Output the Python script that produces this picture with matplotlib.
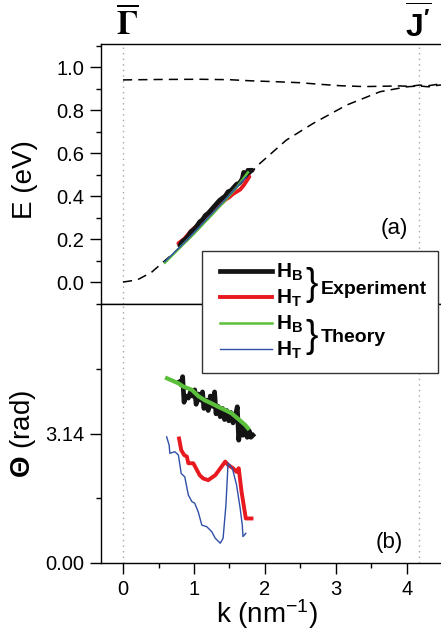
import matplotlib
matplotlib.use("Agg")
import matplotlib.pyplot as plt
from matplotlib.lines import Line2D
from matplotlib.patches import Rectangle

plt.rcParams['font.family'] = ['Liberation Sans', 'DejaVu Sans']
plt.rcParams['mathtext.fontset'] = 'custom'
plt.rcParams['mathtext.rm'] = 'Liberation Sans'
plt.rcParams['mathtext.bf'] = 'Liberation Sans:bold'
plt.rcParams['mathtext.it'] = 'Liberation Sans:italic'

# --- panel (a): dashed model bands
k_band_low = [0.0, 0.2, 0.4, 0.57, 0.8, 1.0, 1.3, 1.6, 1.93, 2.3, 2.68, 3.15, 3.62, 4.0, 4.17, 4.3, 4.46, 4.6]
E_band_low = [0.0, 0.01, 0.045, 0.094, 0.16, 0.225, 0.33, 0.44, 0.552, 0.66, 0.738, 0.823, 0.885, 0.908, 0.912, 0.908, 0.916, 0.918]
k_band_up = [0.0, 0.5, 1.08, 1.5, 1.79, 2.2, 2.49, 2.8, 3.06, 3.4, 3.9, 4.05, 4.17, 4.3, 4.46, 4.6]
E_band_up = [0.940, 0.942, 0.943, 0.941, 0.936, 0.931, 0.927, 0.919, 0.913, 0.909, 0.912, 0.910, 0.916, 0.913, 0.921, 0.918]

# experiment / theory dispersions (panel a)
k_exp_B = [0.80, 0.84, 0.88, 0.92, 0.96, 1.00, 1.04, 1.08, 1.12, 1.16, 1.20, 1.24, 1.28, 1.32, 1.36,
           1.40, 1.44, 1.48, 1.52, 1.56, 1.60, 1.64, 1.68, 1.70, 1.72, 1.74, 1.76, 1.78, 1.80, 1.82]
E_exp_B = [0.17, 0.19, 0.20, 0.215, 0.235, 0.245, 0.26, 0.28, 0.29, 0.31, 0.32, 0.335, 0.35, 0.365, 0.38,
           0.39, 0.40, 0.42, 0.425, 0.44, 0.455, 0.46, 0.48, 0.51, 0.49, 0.50, 0.52, 0.51, 0.52, 0.52]
k_exp_T = [0.78, 0.82, 0.86, 0.90, 0.95, 1.00, 1.05, 1.10, 1.15, 1.20, 1.25, 1.30, 1.35, 1.40, 1.45,
           1.50, 1.55, 1.60, 1.65, 1.70, 1.74, 1.78]
E_exp_T = [0.18, 0.19, 0.20, 0.215, 0.235, 0.25, 0.265, 0.28, 0.30, 0.315, 0.33, 0.345, 0.36, 0.37, 0.385,
           0.395, 0.41, 0.42, 0.43, 0.45, 0.47, 0.49]
k_th_B = [0.59, 0.8, 1.0, 1.2, 1.4, 1.6, 1.76]
E_th_B = [0.09, 0.16, 0.225, 0.295, 0.365, 0.44, 0.51]
k_th_T = [0.59, 0.7, 0.9, 1.1, 1.3, 1.5, 1.74]
E_th_T = [0.095, 0.13, 0.195, 0.265, 0.335, 0.405, 0.49]

# --- panel (b): phase Theta
kq_exp_B = [0.80, 0.82, 0.84, 0.86, 0.88, 0.92, 0.95, 0.98, 1.01, 1.03, 1.06, 1.09, 1.12, 1.14, 1.17, 1.20,
            1.23, 1.26, 1.29, 1.31, 1.34, 1.37, 1.40, 1.43, 1.46, 1.49, 1.52, 1.55, 1.58, 1.61, 1.63, 1.66,
            1.69, 1.72, 1.75, 1.78, 1.80, 1.83]
th_exp_B = [4.40, 4.32, 4.52, 3.90, 4.05, 4.00, 4.15, 4.05, 4.20, 3.85, 4.10, 3.95, 4.15, 3.75, 3.95, 3.70,
            4.05, 3.80, 4.15, 3.62, 3.80, 3.55, 3.75, 3.48, 3.70, 3.45, 3.65, 3.40, 3.55, 3.79, 2.98, 3.35,
            3.10, 3.30, 3.05, 3.20, 3.05, 3.10]
kq_exp_T = [0.79, 0.82, 0.86, 0.90, 0.92, 0.99, 1.04, 1.08, 1.13, 1.20, 1.30, 1.44, 1.48, 1.55, 1.60,
            1.63, 1.67, 1.73, 1.81]
th_exp_T = [3.02, 2.74, 2.62, 2.58, 2.42, 2.42, 2.26, 2.13, 2.05, 2.01, 2.13, 2.46, 2.38, 2.30, 2.21,
            2.30, 1.73, 1.08, 1.08]
kq_th_B = [0.62, 0.70, 0.78, 0.85, 0.97, 1.06, 1.15, 1.25, 1.34, 1.44, 1.53, 1.62, 1.72, 1.76]
th_th_B = [4.48, 4.42, 4.36, 4.28, 4.20, 4.05, 3.95, 3.87, 3.79, 3.71, 3.63, 3.50, 3.35, 3.27]
kq_th_T = [0.615, 0.65, 0.66, 0.73, 0.78, 0.82, 0.87, 0.92, 0.97, 1.01, 1.06, 1.11, 1.18, 1.25, 1.30,
           1.37, 1.41, 1.45, 1.48, 1.54, 1.60, 1.65, 1.68, 1.69, 1.73]
th_th_T = [3.06, 2.86, 2.66, 2.70, 2.62, 2.17, 2.09, 1.65, 1.49, 1.45, 1.24, 0.92, 0.88, 0.76, 0.60,
           0.48, 0.60, 1.41, 2.42, 2.30, 1.89, 1.33, 0.92, 0.64, 0.72]

k_gamma = 0.0
k_jprime = 4.17

W, H = 441, 636
fig = plt.figure(figsize=(W / 100, H / 100), dpi=100)


def fx(x):
    return x / W


def fy(y):
    return 1 - y / H


left, right = 101, 446
ax1 = fig.add_axes([fx(left), fy(304), (right - left) / W, (304 - 44) / H])
ax2 = fig.add_axes([fx(left), fy(563), (right - left) / W, (563 - 304) / H])

xlim = (-0.31, 4.55)
for ax in (ax1, ax2):
    ax.set_xlim(*xlim)
    for s in ax.spines.values():
        s.set_linewidth(1.0)
    ax.axvline(k_gamma, color='0.65', ls=(0, (1, 3)), lw=1.0, zorder=0)
    ax.axvline(k_jprime, color='0.65', ls=(0, (1, 3)), lw=1.0, zorder=0)
    ax.tick_params(which='major', direction='out', length=8, width=1, labelsize=14.5, pad=4)
    ax.tick_params(which='minor', direction='out', length=3.5, width=1)

# panel (a)
ax1.plot(k_band_low, E_band_low, color='k', ls=(0, (6, 4)), lw=1.1)
ax1.plot(k_band_up, E_band_up, color='k', ls=(0, (6, 4)), lw=1.1)
ax1.plot(k_exp_T, E_exp_T, color='#e8191f', lw=2.8, solid_capstyle='round')
ax1.plot(k_exp_B, E_exp_B, color='#141414', lw=3.4, solid_capstyle='round')
ax1.plot(k_th_B, E_th_B, color='#5cbf3c', lw=1.8)
ax1.plot(k_th_T, E_th_T, color='#2f4fa8', lw=1.0)
ax1.set_ylim(-0.102, 1.107)
ax1.set_yticks([0.0, 0.2, 0.4, 0.6, 0.8, 1.0])
ax1.set_yticklabels(['0.0', '0.2', '0.4', '0.6', '0.8', '1.0'])
ax1.set_yticks([-0.1, 0.1, 0.3, 0.5, 0.7, 0.9, 1.1], minor=True)
ax1.set_xticks([])
ax1.set_xticks([], minor=True)
ax1.set_ylabel('E (eV)', fontsize=20)
ax1.yaxis.set_label_coords(-0.183, 0.477)
ax1.text(0.85, 0.29, '(a)', transform=ax1.transAxes, fontsize=16, ha='center', va='center')

# panel (b)
ax2.plot(kq_th_B, th_th_B, color='#5cbf3c', lw=3.0, zorder=2)
ax2.plot(kq_exp_B, th_exp_B, color='#141414', lw=3.4, zorder=1)
ax2.plot(kq_exp_T, th_exp_T, color='#e8191f', lw=2.8)
ax2.plot(kq_th_T, th_th_T, color='#2f4fa8', lw=1.0)
ax2.set_ylim(0, 6.2832)
ax2.set_yticks([0.0, 3.14])
ax2.set_yticklabels(['0.00', '3.14'])
ax2.set_yticks([1.57, 4.71], minor=True)
ax2.set_xticks([0, 1, 2, 3, 4])
ax2.set_xticks([0.5, 1.5, 2.5, 3.5, 4.5], minor=True)
ax2.set_ylabel(r'$\mathbf{\Theta}$ (rad)', fontsize=20)
ax2.yaxis.set_label_coords(-0.183, 0.50)
ax2.set_xlabel(r'k (nm$^{-1}$)', fontsize=20)
ax2.xaxis.set_label_coords(0.481, -0.262)
ax2.xaxis.label.set_va('bottom')
ax2.text(0.836, 0.08, '(b)', transform=ax2.transAxes, fontsize=16, ha='center', va='center')

# high-symmetry point labels
fig.text(fx(127), fy(24), r'$\overline{\mathbf{\Gamma}}$', fontsize=24, ha='center', va='center',
         math_fontfamily='stix')
fig.text(fx(418), fy(24), r"$\overline{\mathbf{J'}}$", fontsize=23, ha='center', va='center')

# legend drawn by hand (box spans both panels)
fig.patches.append(Rectangle((fx(202), fy(373)), (438 - 202) / W, (373 - 251) / H,
                             transform=fig.transFigure, facecolor='white', edgecolor='#333333',
                             lw=1.0, zorder=5))
leg_rows = [(271, '#141414', 3.4, r'$\mathbf{H_B}$'),
            (297, '#e8191f', 2.8, r'$\mathbf{H_T}$'),
            (323, '#5cbf3c', 1.8, r'$\mathbf{H_B}$'),
            (349, '#2f4fa8', 1.0, r'$\mathbf{H_T}$')]
for y, c, lw, lab in leg_rows:
    fig.lines.append(Line2D([fx(220), fx(272)], [fy(y), fy(y)], color=c, lw=lw,
                            transform=fig.transFigure, zorder=6))
    fig.text(fx(276), fy(y + 1), lab, fontsize=15, ha='left', va='center', zorder=6)
fig.text(fx(305), fy(285), '}', fontsize=27, ha='left', va='center', zorder=6)
fig.text(fx(305), fy(337), '}', fontsize=27, ha='left', va='center', zorder=6)
fig.text(fx(321), fy(289), 'Experiment', fontsize=14, fontweight='bold', ha='left', va='center', zorder=6)
fig.text(fx(321), fy(338), 'Theory', fontsize=14, fontweight='bold', ha='left', va='center', zorder=6)

fig.savefig('out.png', dpi=100)
